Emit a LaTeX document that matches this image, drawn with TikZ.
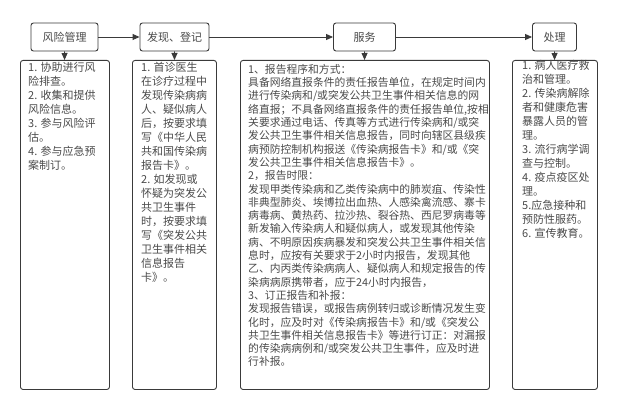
\documentclass[tikz,border=0pt]{standalone}
\usepackage{fontspec}
\setmainfont{Noto Sans CJK SC}
\usepackage{tikz}
\usepackage{xcolor}
\usetikzlibrary{arrows.meta,positioning}
\definecolor{Edge}{HTML}{3A3A3A}
\definecolor{Ink}{HTML}{4A4A4A}
\tikzset{
  headbox/.style={draw=Edge,line width=0.9pt,rounded corners=2.5pt,fill=white,
    minimum height=28pt,inner sep=0pt,text=Ink,font=\fontsize{11}{14}\selectfont},
  bodybox/.style={draw=Edge,line width=0.9pt,rounded corners=2.5pt,anchor=north west,
    minimum height=329pt,inner sep=0pt},
  bodytext/.style={anchor=north west,inner sep=0pt,align=left,text=Ink,
    font=\fontsize{11}{14}\selectfont},
  flow/.style={-{Triangle[length=7pt,width=6pt]},draw=Edge,line width=0.9pt}
}

\begin{document}
\begin{tikzpicture}[x=1pt,y=-1pt]
  \useasboundingbox (0,0) rectangle (618,401);
  % top row
  \node[headbox,minimum width=67pt] (risk) at (64.5,37) {风险管理};
  \node[headbox,minimum width=69pt] (find) at (174.5,37) {发现、登记};
  \node[headbox,minimum width=62pt] (serve) at (364.5,37) {服务};
  \node[headbox,minimum width=44pt] (treat) at (554.5,37) {处理};
  % columns
  \node[bodybox,minimum width=89pt] (riskbox) at (20,60) {};
  \node[bodybox,minimum width=84pt] (findbox) at (132,60) {};
  \node[bodybox,minimum width=249pt] (servebox) at (240,60) {};
  \node[bodybox,minimum width=85pt] (treatbox) at (512,60) {};
  \node[bodytext] (risktext) at ([xshift=8pt,yshift=-2pt]riskbox.north west) {%
    1. 协助进行风\\险排查。\\2. 收集和提供\\风险信息。\\3. 参与风险评\\估。\\4. 参与应急预\\案制订。};
  \node[bodytext] (findtext) at ([xshift=9pt,yshift=-2pt]findbox.north west) {%
    1. 首诊医生\\在诊疗过程中\\发现传染病病\\人、疑似病人\\后，按要求填\\写《中华人民\\共和国传染病\\报告卡》。\\%
    2. 如发现或\\怀疑为突发公\\共卫生事件\\时，按要求填\\写《突发公共\\卫生事件相关\\信息报告\\卡》。};
  \node[bodytext,font=\fontsize{10.8}{13.3}\selectfont] (servetext) at ([xshift=8pt,yshift=-4pt]servebox.north west) {%
    1、报告程序和方式：\\
    具备网络直报条件的责任报告单位，在规定时间内\\
    进行传染病和/或突发公共卫生事件相关信息的网\\
    络直报；不具备网络直报条件的责任报告单位,按相\\
    关要求通过电话、传真等方式进行传染病和/或突\\
    发公共卫生事件相关信息报告，同时向辖区县级疾\\
    病预防控制机构报送《传染病报告卡》和/或《突\\
    发公共卫生事件相关信息报告卡》。\\
    2，报告时限：\\
    发现甲类传染病和乙类传染病中的肺炭疽、传染性\\
    非典型肺炎、埃博拉出血热、人感染禽流感、寨卡\\
    病毒病、黄热药、拉沙热、裂谷热、西尼罗病毒等\\
    新发输入传染病人和疑似病人，或发现其他传染\\
    病、不明原因疾病暴发和突发公共卫生事件相关信\\
    息时，应按有关要求于2小时内报告，发现其他\\
    乙、内丙类传染病病人、疑似病人和规定报告的传\\
    染病病原携带者，应于24小时内报告，\\
    3、订正报告和补报：\\
    发现报告错误，或报告病例转归或诊断情况发生变\\
    化时，应及时对《传染病报告卡》和/或《突发公\\
    共卫生事件相关信息报告卡》等进行订正：对漏报\\
    的传染病病例和/或突发公共卫生事件，应及时进\\
    行补报。};
  \node[bodytext] (treattext) at ([xshift=10pt,yshift=0pt]treatbox.north west) {%
    1. 病人医疗救\\治和管理。\\2. 传染病解除\\者和健康危害\\暴露人员的管\\理。\\3. 流行病学调\\查与控制。\\%
    4. 疫点疫区处\\理。\\5.应急接种和\\预防性服药。\\6. 宣传教育。};
  % arrows
  \draw[flow] (risk) -- (find);
  \draw[flow] (find) -- (serve);
  \draw[flow] (serve) -- (treat);
  \draw[flow] (risk) -- (riskbox);
  \draw[flow] (find) -- (findbox);
  \draw[flow] (serve) -- (servebox);
  \draw[flow] (treat) -- (treatbox);
\end{tikzpicture}
\end{document}
